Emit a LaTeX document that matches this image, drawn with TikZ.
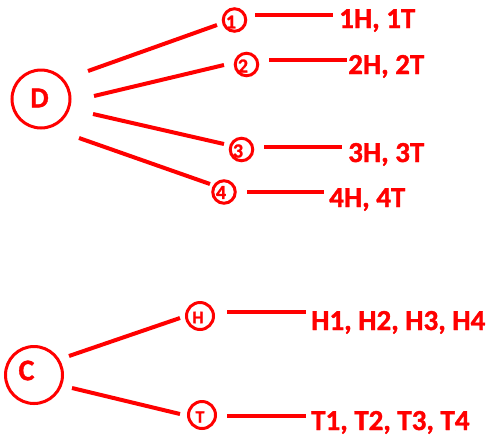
\documentclass[tikz,border=0pt]{standalone}
\usepackage{fontspec}
\setmainfont{Carlito}[BoldFeatures={FakeBold=1.2}]
\usetikzlibrary{calc}
\definecolor{tr}{RGB}{255,0,0}
\begin{document}
\begin{tikzpicture}[x=1pt,y=-1pt,
  ring/.style={circle,draw=tr,line width=3pt,inner sep=0pt,text=tr,font=\bfseries},
  bigring/.style={ring,minimum size=58pt},
  numring/.style={ring,minimum size=22.5pt},
  letring/.style={ring,minimum size=27pt},
  inlbl/.style={text=tr,inner sep=0pt,font=\fontsize{20}{20}\selectfont\bfseries},
  inlet/.style={text=tr,inner sep=0pt,font=\fontsize{17.5}{17.5}\selectfont\bfseries},
  bigletter/.style={text=tr,inner sep=0pt,font=\fontsize{29}{29}\selectfont\bfseries},
  result/.style={anchor=base west,inner sep=0pt,text=tr,font=\fontsize{29}{29}\selectfont\bfseries},
  edge/.style={draw=tr,line width=4pt}]
\useasboundingbox (0,0) rectangle (489,437);

% top tree
\node[bigring,label={[bigletter,xshift=-1.5pt,yshift=1pt]center:D}] (D) at (41,99) {};
\node[numring,label={[inlbl,xshift=-3.5pt,yshift=-2pt]center:1}] (n1) at (234.5,20) {};
\node[numring,label={[inlbl,xshift=-3.5pt,yshift=-1.5pt]center:2}] (n2) at (246.5,64.5) {};
\node[numring,label={[inlbl,xshift=-3.5pt,yshift=-1.5pt]center:3}] (n3) at (241.5,149.5) {};
\node[numring,label={[inlbl,xshift=-3pt,yshift=-0.5pt]center:4}] (n4) at (224,192) {};

\node[result] (L1) at (339,28) {1H, 1T};
\node[result] (L2) at (348,74) {2H, 2T};
\node[result] (L3) at (348,162) {3H, 3T};
\node[result] (L4) at (329,207) {4H, 4T};

\draw[edge] ($(D)+(47,-28)$) -- ($(n1)+(-17.5,5)$);
\draw[edge] ($(D)+(53,-3)$) -- ($(n2)+(-22.5,0.5)$);
\draw[edge] ($(D)+(52,15)$) -- ($(n3)+(-17.5,-5.5)$);
\draw[edge] ($(D)+(38,39)$) -- ($(n4)+(-14,-8)$);

\draw[edge] ($(n1)+(20.5,-5)$) -- ($(L1.base west)+(-6,-13)$);
\draw[edge] ($(n2)+(22.5,-4.5)$) -- ($(L2.base west)+(-1,-14)$);
\draw[edge] ($(n3)+(22.5,-2.5)$) -- ($(L3.base west)+(-6,-15)$);
\draw[edge] ($(n4)+(23,0)$) -- ($(L4.base west)+(-5,-15)$);

% bottom tree
\node[bigring,minimum size=57pt,label={[bigletter,font=\fontsize{30}{30}\selectfont\bfseries,xshift=-7.5pt,yshift=4.5pt]center:C}] (C) at (34,375) {};
\node[letring,label={[inlet,xshift=-2pt,yshift=-1.5pt]center:H}] (nH) at (200,316) {};
\node[letring,label={[inlet,xshift=-2pt,yshift=-2pt]center:T}] (nT) at (202,415) {};

\node[result] (LH) at (311,330) {H1, H2, H3, H4};
\node[result] (LT) at (311,430) {T1, T2, T3, T4};

\draw[edge] ($(C)+(35,-19)$) -- ($(nH)+(-20,2)$);
\draw[edge] ($(C)+(38,13)$) -- ($(nT)+(-22,-1)$);

\draw[edge] ($(nH)+(27,-4)$) -- ($(LH.base west)+(-5,-18)$);
\draw[edge] ($(nT)+(25,1)$) -- ($(LT.base west)+(-5,-14)$);
\end{tikzpicture}
\end{document}
